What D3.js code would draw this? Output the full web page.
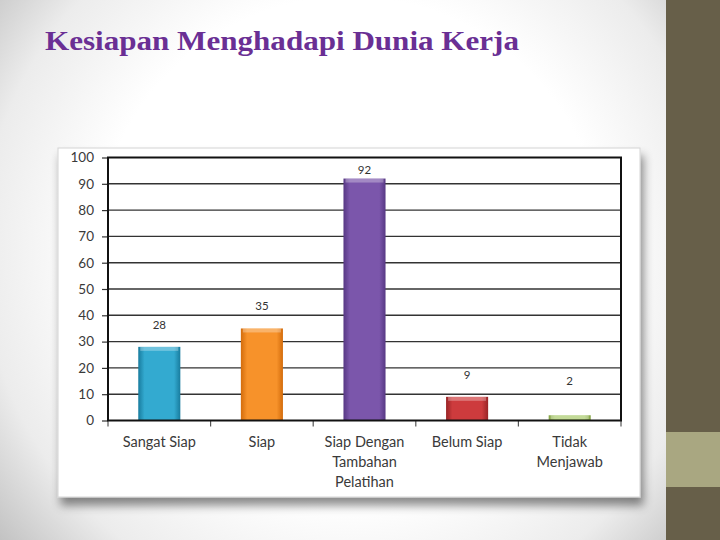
<!DOCTYPE html>
<html><head><meta charset="utf-8">
<script src="https://cdn.jsdelivr.net/npm/d3@7"></script>
<style>html,body{margin:0;padding:0;background:#fff;}svg{display:block;}</style>
</head><body>
<script>
const title = "Kesiapan Menghadapi Dunia Kerja";
const categories = ["Sangat Siap", "Siap", "Siap Dengan Tambahan Pelatihan", "Belum Siap", "Tidak Menjawab"];
const categoryLines = [["Sangat Siap"], ["Siap"], ["Siap Dengan", "Tambahan", "Pelatihan"], ["Belum Siap"], ["Tidak", "Menjawab"]];
const values = [28, 35, 92, 9, 2];
const yTicks = [0, 10, 20, 30, 40, 50, 60, 70, 80, 90, 100];
const barColors = [["#187c9e", "#33aad0"], ["#d36c0c", "#f7922a"], ["#573884", "#7b56ab"], ["#982426", "#cd3b3d"], ["#84a346", "#a9cb6c"]];

(function () {
const W = 720, H = 540;
const svg = d3.select("body").append("svg").attr("width", W).attr("height", H);
const defs = svg.append("defs");

const rg = defs.append("radialGradient").attr("id", "bg").attr("gradientUnits", "userSpaceOnUse")
  .attr("cx", 350).attr("cy", 250).attr("r", 460);
rg.append("stop").attr("offset", 0.55).attr("stop-color", "#ffffff");
rg.append("stop").attr("offset", 0.8).attr("stop-color", "#ececec");
rg.append("stop").attr("offset", 1).attr("stop-color", "#c0c0c0");

const sh = defs.append("filter").attr("id", "shadow").attr("x", -0.1).attr("y", -0.1).attr("width", 1.2).attr("height", 1.3);
sh.append("feDropShadow").attr("dx", 3).attr("dy", 8).attr("stdDeviation", 5)
  .attr("flood-color", "#000").attr("flood-opacity", 0.45);

barColors.forEach((c, i) => {
  const g = defs.append("linearGradient").attr("id", "bar" + i).attr("x1", 0).attr("x2", 1).attr("y1", 0).attr("y2", 0);
  g.append("stop").attr("offset", 0).attr("stop-color", c[0]);
  g.append("stop").attr("offset", 0.15).attr("stop-color", c[1]);
  g.append("stop").attr("offset", 0.85).attr("stop-color", c[1]);
  g.append("stop").attr("offset", 1).attr("stop-color", c[0]);
});

// slide background
svg.append("rect").attr("x", 0).attr("y", 0).attr("width", 667).attr("height", H).attr("fill", "url(#bg)");
svg.append("rect").attr("x", 666).attr("y", 0).attr("width", 54).attr("height", H).attr("fill", "#675f49");
svg.append("rect").attr("x", 666).attr("y", 432).attr("width", 54).attr("height", 55).attr("fill", "#a9a781");

// title
svg.append("text").attr("x", 45).attr("y", 50)
  .attr("font-family", "Liberation Serif, DejaVu Serif, serif").attr("font-weight", "bold")
  .attr("font-size", 28).attr("fill", "#6a2f94")
  .attr("textLength", 474).attr("lengthAdjust", "spacingAndGlyphs")
  .text(title);

// chart box
svg.append("rect").attr("x", 58).attr("y", 148).attr("width", 582).attr("height", 349)
  .attr("fill", "#fff").attr("stroke", "#d4d4d4").attr("stroke-width", 1).attr("filter", "url(#shadow)");

const pLeft = 108, pRight = 621, pTop = 157.5, pBottom = 420.5;
const x = d3.scaleBand().domain(categories).range([pLeft, pRight]).padding(0);
const y = d3.scaleLinear().domain([0, 100]).range([pBottom, pTop]);
const font = "Lato, Open Sans, Liberation Sans, sans-serif";

// gridlines
svg.append("g").selectAll("line").data(yTicks.slice(1, -1)).join("line")
  .attr("x1", pLeft).attr("x2", pRight).attr("y1", d => y(d)).attr("y2", d => y(d))
  .attr("stroke", "#333").attr("stroke-width", 1.4);

// y axis
const yAxis = svg.append("g").attr("transform", `translate(${pLeft},0)`)
  .call(d3.axisLeft(y).tickValues(yTicks).tickSize(6).tickPadding(8));
yAxis.select(".domain").remove();
yAxis.selectAll(".tick line").attr("stroke", "#333").attr("stroke-width", 1.2);
yAxis.selectAll(".tick text").attr("font-family", font).attr("font-size", 13.5).attr("fill", "#3a3a3a");

// x axis ticks at category boundaries
const bounds = categories.map(c => x(c)).concat([x(categories[categories.length - 1]) + x.bandwidth()]);
svg.append("g").selectAll("line").data(bounds).join("line")
  .attr("x1", d => d).attr("x2", d => d).attr("y1", pBottom).attr("y2", pBottom + 6)
  .attr("stroke", "#555").attr("stroke-width", 1.2);

// bars
const bw = x.bandwidth() * 0.41;
const bars = svg.append("g").selectAll("g").data(values).join("g");
bars.append("rect")
  .attr("x", (d, i) => x(categories[i]) + x.bandwidth() / 2 - bw / 2)
  .attr("y", d => y(d)).attr("width", bw).attr("height", d => pBottom - y(d))
  .attr("fill", (d, i) => `url(#bar${i})`);
bars.append("rect")
  .attr("x", (d, i) => x(categories[i]) + x.bandwidth() / 2 - bw / 2 + 2)
  .attr("y", d => y(d)).attr("width", bw - 4).attr("height", d => Math.min(4, pBottom - y(d)))
  .attr("fill", "#fff").attr("opacity", 0.3);

// plot border
svg.append("rect").attr("x", pLeft).attr("y", pTop).attr("width", pRight - pLeft).attr("height", pBottom - pTop)
  .attr("fill", "none").attr("stroke", "#111").attr("stroke-width", 2);

// value labels
svg.append("g").selectAll("text").data(values).join("text")
  .attr("x", (d, i) => x(categories[i]) + x.bandwidth() / 2)
  .attr("y", d => Math.min(Math.max(y(d) - 22, y(100) + 12), y(15)) + 4)
  .attr("text-anchor", "middle").attr("font-family", font).attr("font-size", 11.5).attr("fill", "#333")
  .text(d => d);

// category labels
const cl = svg.append("g").selectAll("text").data(categoryLines).join("text")
  .attr("text-anchor", "middle").attr("font-family", font).attr("font-size", 14.5).attr("fill", "#3a3a3a")
  .attr("transform", (d, i) => `translate(${x(categories[i]) + x.bandwidth() / 2},447)`);
cl.selectAll("tspan").data(d => d).join("tspan")
  .attr("x", 0).attr("y", (d, j) => j * 20).text(d => d);
})();
</script>
</body></html>
